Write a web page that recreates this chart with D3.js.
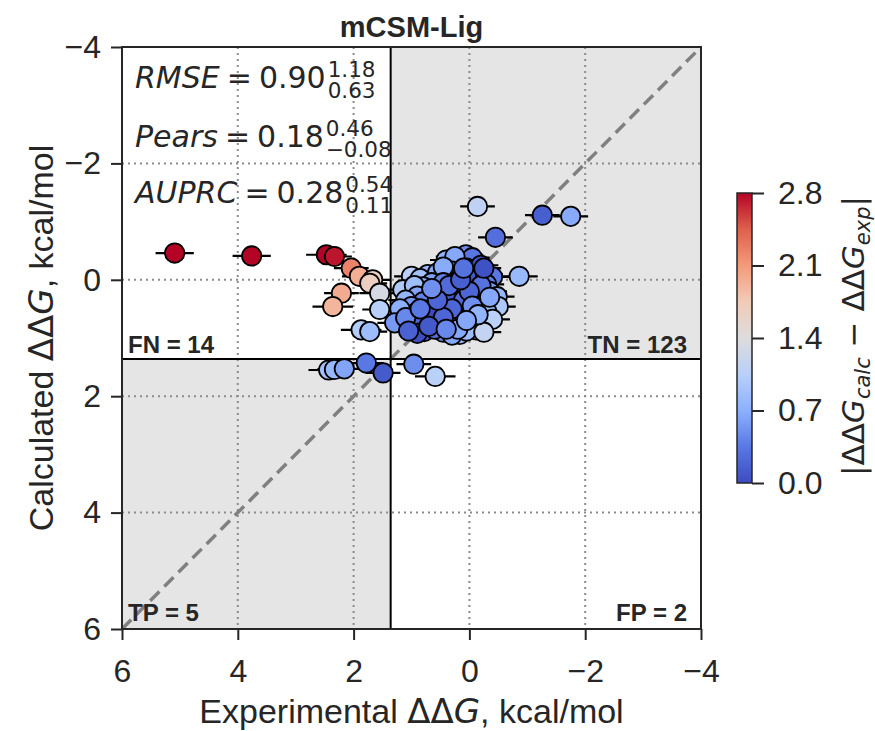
<!DOCTYPE html>
<html>
<head>
<meta charset="utf-8">
<script src="https://cdn.jsdelivr.net/npm/d3@7"></script>
<style>
  body { margin: 0; background: #fff; }
</style>
</head>
<body>
<div class="chart"></div>
<script>
// points as [experimental ddG, calculated ddG, experimental error]
var fnPoints = [
  [5.09, -0.46, 0.33], [3.76, -0.41, 0.33], [2.47, -0.43, 0.35], [2.33, -0.40, 0.30],
  [2.04, -0.20, 0.30], [1.90, -0.06, 0.30], [2.21, 0.23, 0.30], [2.36, 0.46, 0.35],
  [1.67, 0.00, 0.30], [1.72, 0.06, 0.30], [1.55, 0.23, 0.35], [1.55, 0.51, 0.30],
  [1.87, 0.86, 0.35], [1.72, 0.89, 0.30]
];
var tpPoints = [
  [2.43, 1.55, 0.35], [2.33, 1.54, 0.30], [2.16, 1.53, 0.30], [1.78, 1.43, 0.30], [1.49, 1.60, 0.30]
];
var fpPoints = [
  [0.96, 1.45, 0.30], [0.59, 1.66, 0.35]
];
var tnPoints = [
  [-0.14, -1.26, 0.30], [-0.45, -0.73, 0.30], [-1.26, -1.11, 0.30], [-1.75, -1.09, 0.30], [-0.86, -0.06, 0.32],
  [0.06, -0.43, 0.30], [0.40, -0.34, 0.28], [0.12, -0.30, 0.30], [-0.05, -0.38, 0.30], [0.25, -0.40, 0.33],
  [1.00, -0.06, 0.30], [0.72, -0.09, 0.30], [0.17, -0.11, 0.28], [-0.12, -0.17, 0.30], [0.05, -0.20, 0.30],
  [0.30, -0.15, 0.30], [-0.28, -0.10, 0.30], [0.55, -0.12, 0.32], [-0.40, -0.05, 0.30], [0.45, -0.22, 0.30],
  [-0.20, -0.25, 0.30], [0.85, -0.02, 0.30],
  [1.15, 0.17, 0.30], [0.34, 0.14, 0.30], [0.52, 0.17, 0.30], [-0.17, 0.00, 0.30], [0.00, 0.05, 0.30],
  [0.10, 0.10, 0.30], [0.20, 0.02, 0.30], [-0.05, 0.15, 0.30], [0.65, 0.05, 0.30], [0.80, 0.12, 0.30],
  [-0.30, 0.08, 0.30], [0.38, 0.20, 0.30], [0.15, 0.18, 0.30], [-0.35, 0.20, 0.30], [0.95, 0.10, 0.30],
  [0.25, 0.08, 0.30], [-0.10, 0.22, 0.30], [0.60, 0.22, 0.30], [0.45, 0.05, 0.30],
  [-0.48, 0.29, 0.30], [0.70, 0.30, 0.30], [0.05, 0.30, 0.30], [0.30, 0.35, 0.30], [0.50, 0.32, 0.30],
  [-0.20, 0.35, 0.30], [0.15, 0.28, 0.30], [0.90, 0.28, 0.30], [1.10, 0.35, 0.30], [-0.05, 0.40, 0.30],
  [0.40, 0.40, 0.30], [0.22, 0.38, 0.30], [0.62, 0.40, 0.30], [0.80, 0.38, 0.30], [-0.30, 0.38, 0.30],
  [1.00, 0.46, 0.30], [-0.50, 0.46, 0.30], [0.57, 0.46, 0.30], [0.00, 0.57, 0.30], [0.20, 0.50, 0.30],
  [0.35, 0.55, 0.30], [0.75, 0.52, 0.30], [-0.15, 0.50, 0.30], [0.10, 0.45, 0.30], [0.45, 0.48, 0.30],
  [0.90, 0.55, 0.30], [-0.30, 0.55, 0.30], [0.65, 0.58, 0.30], [0.28, 0.45, 0.30], [1.20, 0.50, 0.30],
  [1.29, 0.74, 0.30], [0.40, 0.74, 0.30], [0.10, 0.65, 0.30], [0.55, 0.68, 0.30], [-0.20, 0.70, 0.30],
  [0.25, 0.62, 0.30], [0.80, 0.70, 0.30], [0.00, 0.75, 0.30], [0.65, 0.78, 0.30], [-0.40, 0.68, 0.30],
  [0.35, 0.80, 0.30], [0.95, 0.75, 0.30], [0.15, 0.78, 0.30], [1.10, 0.65, 0.30], [-0.05, 0.62, 0.30],
  [0.78, 0.89, 0.30], [-0.12, 0.86, 0.30], [0.17, 0.94, 0.30], [0.45, 0.90, 0.30], [0.60, 0.85, 0.30],
  [0.30, 0.95, 0.30], [0.05, 0.88, 0.30], [0.90, 0.92, 0.30], [-0.25, 0.90, 0.30], [1.05, 0.88, 0.30],
  [0.20, 0.20, 0.30], [0.30, 0.25, 0.30], [-0.10, -0.05, 0.30], [0.05, -0.05, 0.30], [0.40, 0.30, 0.30],
  [0.10, 0.35, 0.30], [-0.20, 0.10, 0.30], [0.50, 0.55, 0.30], [0.25, 0.70, 0.30], [0.35, 0.10, 0.30],
  [-0.25, -0.20, 0.30], [0.00, 0.20, 0.30], [0.15, 0.00, 0.30], [0.60, 0.60, 0.30], [-0.05, 0.45, 0.30],
  [0.30, 0.50, 0.30], [0.45, 0.65, 0.30], [0.70, 0.80, 0.30], [-0.35, 0.30, 0.30], [0.20, 0.85, 0.30],
  [0.55, 0.35, 0.30], [0.10, -0.20, 0.30], [-0.15, 0.60, 0.30], [0.85, 0.50, 0.30], [0.40, 0.85, 0.30],
  [0.05, 0.70, 0.30], [0.65, 0.15, 0.30]
];

var xTicks = [6, 4, 2, 0, -2, -4];
var yTicks = [-4, -2, 0, 2, 4, 6];
var cbTicks = [0.0, 0.7, 1.4, 2.1, 2.8];
var threshold = 1.36;
var quadLabels = [["FN = 14", "tl"], ["TN = 123", "tr"], ["TP = 5", "bl"], ["FP = 2", "br"]];
var statNames = ["RMSE", "Pears", "AUPRC"];
var statValues = ["0.90", "0.18", "0.28"];
var statHigh = ["1.18", "0.46", "0.54"];
var statLow = ["0.63", "−0.08", "0.11"];

// approximation of matplotlib's coolwarm
var coolwarm = ["#3b4cc0", "#5a78e4", "#8db0fe", "#b8d0f9", "#dddcdc", "#f2cbb7", "#f49a7b", "#de604d", "#b40426"];

var svgWidth = 875, svgHeight = 731;
var margin = { top: 47, right: 174, bottom: 102, left: 122 };
var width = svgWidth - margin.left - margin.right;   // 579
var height = svgHeight - margin.top - margin.bottom; // 582

var sans = "'Liberation Sans', Arial, sans-serif";
var mathFont = "'DejaVu Sans', sans-serif";
var ink = "#262626";

var svg = d3.select(".chart").append("svg")
  .attr("width", svgWidth)
  .attr("height", svgHeight);

var chartGroup = svg.append("g")
  .attr("transform", `translate(${margin.left}, ${margin.top})`);

var xScale = d3.scaleLinear().domain([6, -4]).range([0, width]);
var yScale = d3.scaleLinear().domain([-4, 6]).range([0, height]);
var cStops = coolwarm.map((c, i) => 2.8 * i / (coolwarm.length - 1));
var colorScale = d3.scaleLinear().domain(cStops).range(coolwarm).clamp(true);

// shaded quadrants (TN top-right, TP bottom-left)
chartGroup.append("rect")
  .attr("x", xScale(threshold)).attr("y", 0)
  .attr("width", width - xScale(threshold)).attr("height", yScale(threshold))
  .attr("fill", "#e5e5e5");
chartGroup.append("rect")
  .attr("x", 0).attr("y", yScale(threshold))
  .attr("width", xScale(threshold)).attr("height", height - yScale(threshold))
  .attr("fill", "#e5e5e5");

// dotted grid
chartGroup.selectAll(".vgrid")
  .data(xTicks.slice(1, -1)).enter().append("line")
  .attr("x1", d => xScale(d)).attr("x2", d => xScale(d))
  .attr("y1", 0).attr("y2", height)
  .attr("stroke", "#8c8c8c").attr("stroke-width", 2).attr("stroke-dasharray", "2,4");
chartGroup.selectAll(".hgrid")
  .data(yTicks.slice(1, -1)).enter().append("line")
  .attr("y1", d => yScale(d)).attr("y2", d => yScale(d))
  .attr("x1", 0).attr("x2", width)
  .attr("stroke", "#8c8c8c").attr("stroke-width", 2).attr("stroke-dasharray", "2,4");

// diagonal
chartGroup.append("line")
  .attr("x1", xScale(6)).attr("y1", yScale(6))
  .attr("x2", xScale(-4)).attr("y2", yScale(-4))
  .attr("stroke", "#808080").attr("stroke-width", 3.5).attr("stroke-dasharray", "13,7");

// threshold lines
chartGroup.append("line")
  .attr("x1", xScale(threshold)).attr("x2", xScale(threshold))
  .attr("y1", 0).attr("y2", height)
  .attr("stroke", "#000").attr("stroke-width", 2);
chartGroup.append("line")
  .attr("x1", 0).attr("x2", width)
  .attr("y1", yScale(threshold)).attr("y2", yScale(threshold))
  .attr("stroke", "#000").attr("stroke-width", 2);

var allPoints = fnPoints.concat(tpPoints, fpPoints, tnPoints);

// error bars first, markers on top
chartGroup.selectAll(".errbar")
  .data(allPoints).enter().append("line")
  .attr("x1", d => xScale(d[0] + d[2])).attr("x2", d => xScale(d[0] - d[2]))
  .attr("y1", d => yScale(d[1])).attr("y2", d => yScale(d[1]))
  .attr("stroke", "#000").attr("stroke-width", 2.2);

chartGroup.selectAll(".pt")
  .data(allPoints).enter().append("circle")
  .attr("cx", d => xScale(d[0]))
  .attr("cy", d => yScale(d[1]))
  .attr("r", 9.7)
  .attr("fill", d => colorScale(Math.abs(d[1] - d[0])))
  .attr("stroke", "#000").attr("stroke-width", 1.8);

// quadrant counts
quadLabels.forEach(function(q) {
  var right = q[1][1] === "r";
  var top = q[1][0] === "t";
  chartGroup.append("text")
    .attr("x", right ? width - 14 : 6)
    .attr("y", top ? yScale(threshold) - 6 : height - 8)
    .attr("text-anchor", right ? "end" : "start")
    .attr("font-family", sans).attr("font-weight", "bold")
    .attr("font-size", 24).attr("fill", ink)
    .text(q[0]);
});

// stats box text with upper/lower bounds
var statBase = [41, 100, 156];
statNames.forEach(function(name, i) {
  var t = chartGroup.append("text")
    .attr("x", 13).attr("y", statBase[i])
    .attr("font-family", mathFont).attr("font-size", 30).attr("fill", ink);
  t.append("tspan").attr("font-style", "italic").text(name);
  t.append("tspan").attr("dx", 7).text("=");
  t.append("tspan").attr("dx", 7).text(statValues[i]);
  var bb = t.node().getBBox();
  var sx = bb.x + bb.width + 2;
  chartGroup.append("text")
    .attr("x", sx).attr("y", statBase[i] - 11.5)
    .attr("font-family", mathFont).attr("font-size", 21.5).attr("fill", ink)
    .text(statHigh[i]);
  chartGroup.append("text")
    .attr("x", sx).attr("y", statBase[i] + 9.5)
    .attr("font-family", mathFont).attr("font-size", 21.5).attr("fill", ink)
    .text(statLow[i]);
});

// frame
chartGroup.append("rect")
  .attr("x", 0).attr("y", 0).attr("width", width).attr("height", height)
  .attr("fill", "none").attr("stroke", ink).attr("stroke-width", 2);

// axes
var bottomAxis = d3.axisBottom(xScale).tickValues(xTicks).tickSize(11).tickPadding(19);
var leftAxis = d3.axisLeft(yScale).tickValues(yTicks).tickSize(11).tickPadding(10);

var xAxis = chartGroup.append("g")
  .attr("transform", `translate(0, ${height})`)
  .call(bottomAxis);
var yAxis = chartGroup.append("g").call(leftAxis);

[xAxis, yAxis].forEach(function(ax) {
  ax.select(".domain").remove();
  ax.selectAll("line").attr("stroke", ink).attr("stroke-width", 2);
  ax.selectAll("text").attr("font-family", sans).attr("font-size", 32).attr("fill", ink);
});

// axis labels
var xLabel = svg.append("text")
  .attr("x", margin.left + width / 2).attr("y", 723)
  .attr("text-anchor", "middle")
  .attr("font-family", sans).attr("font-size", 34).attr("fill", ink);
xLabel.append("tspan").text("Experimental ");
xLabel.append("tspan").attr("font-family", mathFont).text("ΔΔ");
xLabel.append("tspan").attr("font-family", mathFont).attr("font-style", "italic").text("G");
xLabel.append("tspan").text(", kcal/mol");

var yLabel = svg.append("text")
  .attr("transform", `translate(53, ${margin.top + height / 2}) rotate(-90)`)
  .attr("text-anchor", "middle")
  .attr("font-family", sans).attr("font-size", 34).attr("fill", ink);
yLabel.append("tspan").text("Calculated ");
yLabel.append("tspan").attr("font-family", mathFont).text("ΔΔ");
yLabel.append("tspan").attr("font-family", mathFont).attr("font-style", "italic").text("G");
yLabel.append("tspan").text(", kcal/mol");

// title
svg.append("text")
  .attr("x", margin.left + width / 2).attr("y", 37)
  .attr("text-anchor", "middle")
  .attr("font-family", sans).attr("font-weight", "bold")
  .attr("font-size", 29).attr("fill", ink)
  .text("mCSM-Lig");

// colorbar
var cbX = 737, cbTop = 193, cbBottom = 483, cbW = 15;
var defs = svg.append("defs");
var grad = defs.append("linearGradient").attr("id", "cwgrad")
  .attr("x1", 0).attr("y1", 1).attr("x2", 0).attr("y2", 0);
coolwarm.forEach(function(c, i) {
  grad.append("stop").attr("offset", i / (coolwarm.length - 1)).attr("stop-color", c);
});
svg.append("rect")
  .attr("x", cbX).attr("y", cbTop).attr("width", cbW).attr("height", cbBottom - cbTop)
  .attr("fill", "url(#cwgrad)").attr("stroke", ink).attr("stroke-width", 1.5);

var cbScale = d3.scaleLinear().domain([0, 2.8]).range([cbBottom, cbTop]);
var cbAxis = svg.append("g")
  .attr("transform", `translate(${cbX + cbW}, 0)`)
  .call(d3.axisRight(cbScale).tickValues(cbTicks).tickFormat(d3.format(".1f")).tickSize(12).tickPadding(14));
cbAxis.select(".domain").remove();
cbAxis.selectAll("line").attr("stroke", ink).attr("stroke-width", 2);
cbAxis.selectAll("text").attr("font-family", sans).attr("font-size", 32).attr("fill", ink);

var cbLabel = svg.append("text")
  .attr("transform", `translate(864, ${(cbTop + cbBottom) / 2 - 2}) rotate(-90)`)
  .attr("text-anchor", "middle")
  .attr("font-family", mathFont).attr("font-size", 31).attr("fill", ink);
cbLabel.append("tspan").text("|ΔΔ");
cbLabel.append("tspan").attr("font-style", "italic").text("G");
cbLabel.append("tspan").attr("font-style", "italic").attr("font-size", 21).attr("dy", 6).text("calc");
cbLabel.append("tspan").attr("dy", -6).text(" − ΔΔ");
cbLabel.append("tspan").attr("font-style", "italic").text("G");
cbLabel.append("tspan").attr("font-style", "italic").attr("font-size", 21).attr("dy", 6).text("exp");
cbLabel.append("tspan").attr("dy", -6).text("|");
</script>
</body>
</html>
